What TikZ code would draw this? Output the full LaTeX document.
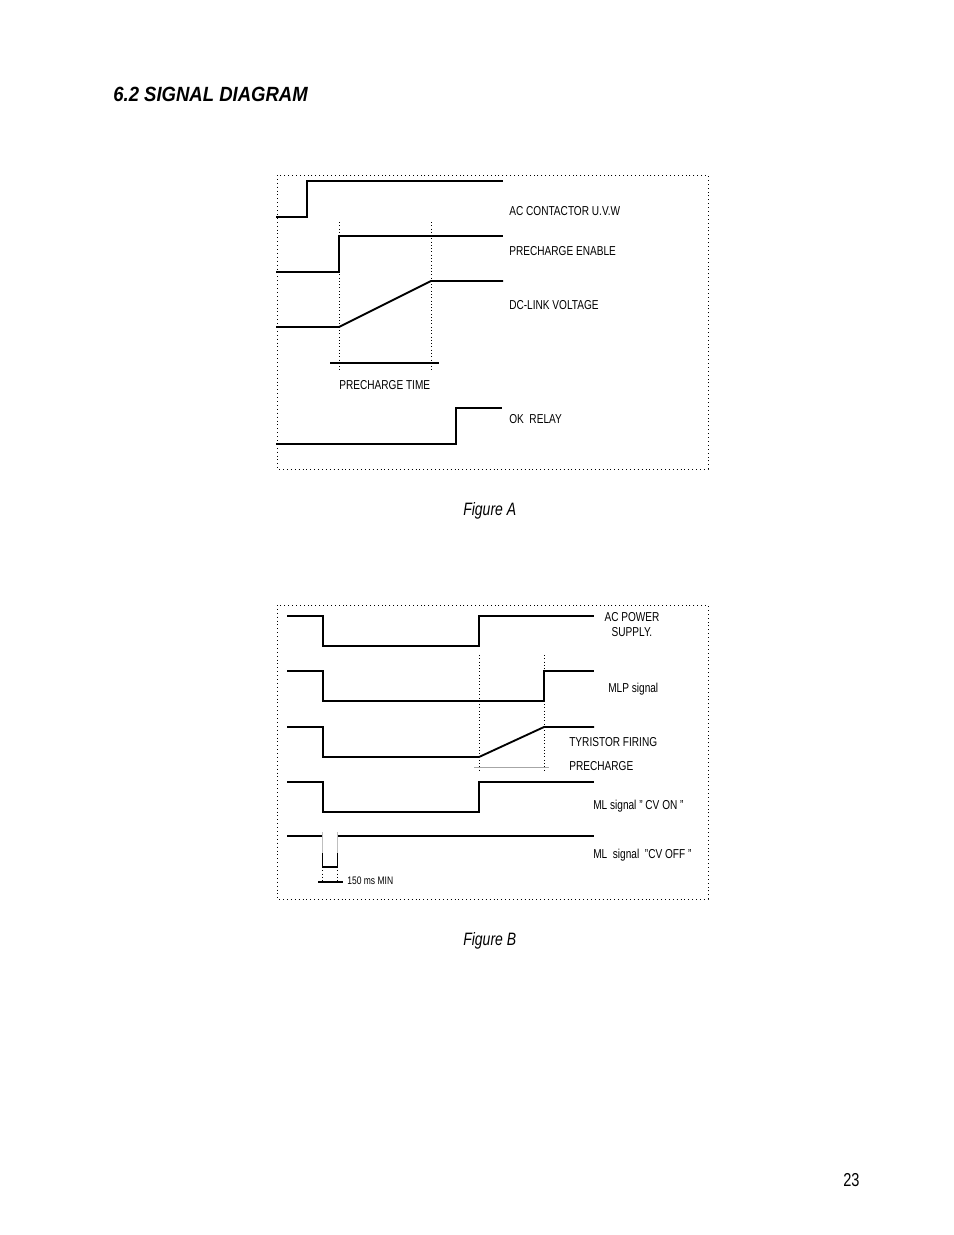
\documentclass[tikz,border=0pt]{standalone}
\usepackage{fontspec}
\setmainfont{Liberation Sans}[FakeStretch=0.78]
\newfontfamily\headfont{Liberation Sans}[FakeStretch=0.9]
\begin{document}
\begin{tikzpicture}[x=0.6415pt,y=-0.6415pt,
    sig/.style={line width=1.2pt},
    frame/.style={line width=0.6pt, dash pattern=on 0.6pt off 1.9pt},
    guide/.style={line width=0.5pt, dash pattern=on 0.5pt off 1.6pt},
    lbl/.style={inner sep=0pt, anchor=base west, font=\fontsize{8.3}{10}\selectfont},
    figcap/.style={inner sep=0pt, anchor=base west, font=\fontsize{11.5}{13}\selectfont\itshape}]
  \useasboundingbox (0,0) rectangle (954,1235);

  % heading
  \node[inner sep=0pt, anchor=base west, font=\headfont\fontsize{13.2}{15}\selectfont\bfseries\itshape] (title) at (113,101) {6.2 SIGNAL DIAGRAM};

  % figure A, frame
  \draw[frame] (277,175) rectangle (708,469);

  % figure A, signals
  \draw[sig] (276,217) -- (307,217) -- (307,181) -- (503,181);
  \draw[sig] (276,272) -- (339,272) -- (339,236) -- (503,236);
  \draw[sig] (276,327) -- (339,327) -- (431,281) -- (503,281);
  \draw[sig] (276,444) -- (456,444) -- (456,408) -- (502,408);

  % precharge time
  \draw[guide] (339,222) -- (339,370);
  \draw[guide] (431,222) -- (431,370);
  \draw[line width=0.7pt] (330,363) -- ++ (109,0);

  \node[lbl] (acc) at (509,215) {AC CONTACTOR U.V.W};
  \node[lbl] (pen) at (509,255) {PRECHARGE ENABLE};
  \node[lbl] (dcl) at (509,309) {DC-LINK VOLTAGE};
  \node[lbl] (pct) at (339,389) {PRECHARGE TIME};
  \node[lbl] (okr) at (509,423) {OK\ \ RELAY};

  \node[figcap] (figa) at (463,515) {Figure A};

  % figure B, frame
  \draw[frame] (277,605) rectangle (708,899);

  % figure B, signals
  \draw[sig] (287,616) -- (323,616) -- (323,646) -- (479,646) -- (479,616) -- (594,616);
  \draw[sig] (287,671) -- (323,671) -- (323,701) -- (544,701) -- (544,671) -- (594,671);
  \draw[sig] (287,727) -- (323,727) -- (323,757) -- (479,757) -- (544,727) -- (594,727);
  \draw[sig] (287,782) -- (323,782) -- (323,812) -- (479,812) -- (479,782) -- (594,782);

  % cv off pulse, 150 ms
  \draw[sig] (287,836) -- (322,836);
  \draw[sig] (338,836) -- (594,836);
  \draw[gray!50, line width=0.5pt] (322.5,832) -- (322.5,853);
  \draw[gray!50, line width=0.5pt] (337.5,832) -- (337.5,853);
  \draw[sig] (322.5,853) -- (322.5,867) -- (337.5,867) -- (337.5,853);
  \draw[guide] (322.5,867) -- ++ (0,15);
  \draw[guide] (337.5,867) -- ++ (0,15);
  \draw[line width=0.7pt] (318,882) -- ++ (25,0);

  % tyristor precharge
  \draw[guide] (479,655) -- (479,772);
  \draw[guide] (544,655) -- (544,772);
  \draw[gray!70, line width=0.6pt] (474,767) -- (549,767);

  \node[lbl, anchor=base] (acp) at (632,621) {AC POWER};
  \node[lbl, anchor=base] (sup) at (632,636) {SUPPLY.};
  \node[lbl] (mlp) at (608,692) {MLP signal};
  \node[lbl] (tyf) at (569,746) {TYRISTOR FIRING};
  \node[lbl] (typ) at (569,770) {PRECHARGE};
  \node[lbl] (con) at (593,809) {ML signal " CV ON "};
  \node[lbl] (cof) at (593,858) {ML\ \ signal\ \ "CV OFF "};
  \node[lbl, font=\fontsize{7}{8}\selectfont] (min) at (347,884) {150 ms MIN};

  \node[figcap] (figb) at (463,945) {Figure B};

  % page number
  \node[inner sep=0pt, anchor=base west, font=\fontsize{12}{14}\selectfont] (page) at (843,1186) {23};
\end{tikzpicture}
\end{document}
